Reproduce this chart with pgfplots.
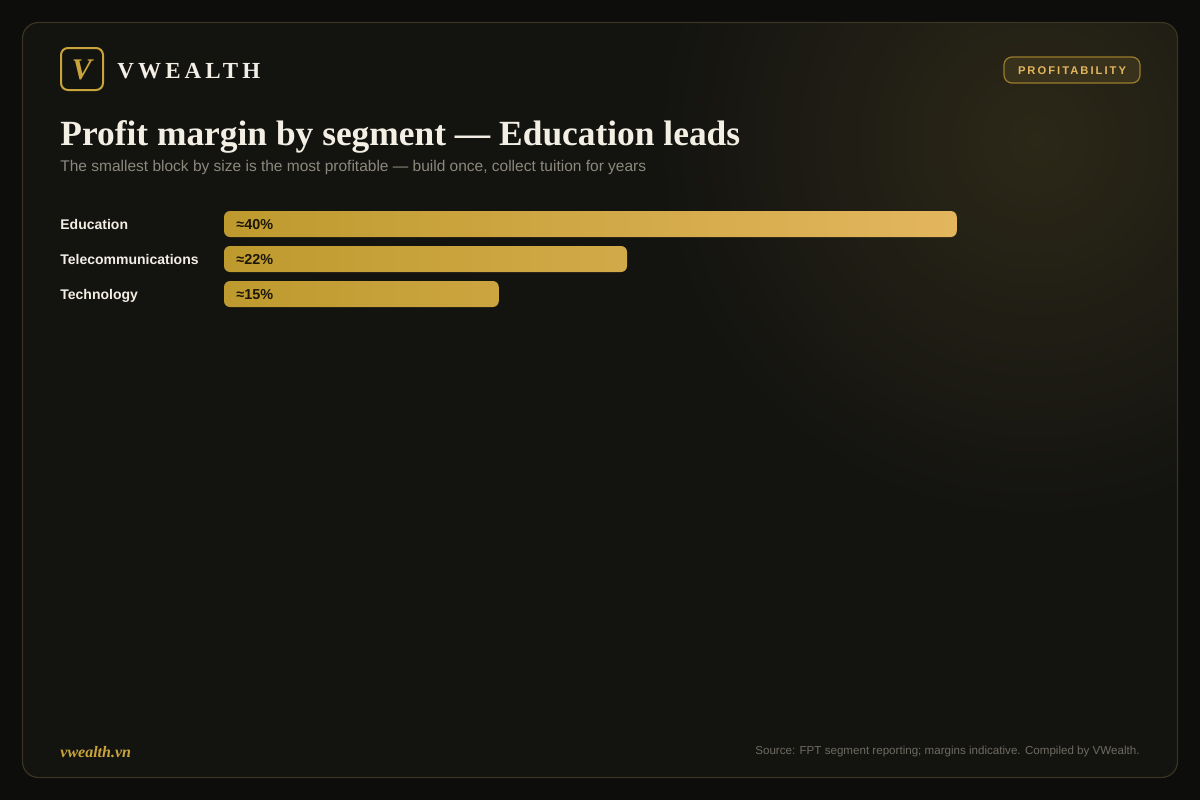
\documentclass[border=0pt]{standalone}
\usepackage{pgfplots}
\usepackage{pgfplotstable}
\pgfplotsset{compat=1.18}
\usepackage{fontspec}
\setmainfont{Liberation Sans}
\newfontfamily\serifb{Liberation Serif}
\newfontfamily\logofont[LetterSpace=18]{Liberation Serif}
\newfontfamily\badgefont[LetterSpace=18]{Liberation Sans}
\definecolor{pagebg}{HTML}{0D0D0B}
\definecolor{cardbg}{HTML}{131310}
\definecolor{glow}{HTML}{2C2818}
\definecolor{cardline}{HTML}{3A3422}
\definecolor{gold}{HTML}{C9A43A}
\definecolor{goldL}{HTML}{E3B65E}
\definecolor{goldD}{HTML}{BE9A2E}
\definecolor{titlec}{HTML}{F4EFE4}
\definecolor{subc}{HTML}{8C887C}
\definecolor{srcc}{HTML}{6E6B62}
\definecolor{labc}{HTML}{F2EEE4}
\definecolor{barlab}{HTML}{1C1706}
\definecolor{badgebg}{HTML}{38311B}
\definecolor{badgeline}{HTML}{9A7D2C}
\pgfplotstableread{
idx val zero lab
0 40 0 {≈40\%}
1 22 0 {≈22\%}
2 15 0 {≈15\%}
}\margins
\begin{document}
\begin{tikzpicture}[x=0.5pt,y=-0.5pt]
\fill[pagebg] (0,0) rectangle (1200,800);
\begin{scope}
\clip[rounded corners=8pt] (22.5,22.5) rectangle (1177.5,777.5);
\fill[cardbg] (0,0) rectangle (1200,800);
\shade[inner color=glow, outer color=cardbg] (1035,140) circle (380);
\end{scope}
\draw[cardline, line width=0.6pt, rounded corners=8pt] (22.5,22.5) rectangle (1177.5,777.5);
% logo
\draw[gold, line width=1pt, rounded corners=3.5pt] (61,48) rectangle (103,90);
\node[text=gold, font=\serifb\bfseries\itshape\fontsize{15}{15}\selectfont] at (82,70) {V};
\node[anchor=base west, inner sep=0, text=titlec, font=\logofont\bfseries\fontsize{11.5}{12}\selectfont] at (117,78) {VWEALTH};
% badge
\draw[badgeline, fill=badgebg, line width=0.6pt, rounded corners=4pt] (1004,57) rectangle (1140,83);
\node[text=goldL, font=\badgefont\bfseries\fontsize{5.6}{6}\selectfont] at (1072,70.5) {PROFITABILITY};
% title
\node[anchor=base west, inner sep=0, text=titlec, font=\serifb\bfseries\fontsize{17.7}{20}\selectfont] at (60,145) {Profit margin by segment — Education leads};
\node[anchor=base west, inner sep=0, text=subc, font=\fontsize{7.75}{8}\selectfont] at (60,171) {The smallest block by size is the most profitable — build once, collect tuition for years};
% footer
\node[anchor=base west, inner sep=0, text=gold, font=\serifb\bfseries\itshape\fontsize{8}{8}\selectfont] at (60,757) {vwealth.vn};
\node[anchor=base east, inner sep=0, text=srcc, font=\fontsize{5.8}{6}\selectfont] at (1140,754) {Source: FPT segment reporting; margins indicative. Compiled by VWealth.};
\coordinate (chartorigin) at (224,311.5);
% chart
\begin{axis}[
  at={(chartorigin)}, anchor=south west,
  width=458pt, height=52.5pt, scale only axis,
  xmin=0, xmax=50, ymin=-0.5, ymax=2.5, y dir=reverse,
  axis line style={draw=none}, tick style={draw=none},
  xtick=\empty, ytick={0,1,2},
  yticklabels={Education,Telecommunications,Technology},
  yticklabel style={anchor=base west, inner sep=0pt, xshift=-82pt, yshift=-2.6pt, text=labc, font=\bfseries\fontsize{7}{8}\selectfont},
  clip=false,
]
\addplot[xbar, bar width=13pt, bar shift=0pt, draw=none, rounded corners=3pt, left color=goldD, right color=goldL]
  table[x=val, y=idx] {\margins};
\addplot[draw=none, mark=none, nodes near coords, point meta=explicit symbolic,
  every node near coord/.style={anchor=base west, inner sep=0pt, xshift=6pt, yshift=-2.6pt, text=barlab, font=\bfseries\fontsize{7.2}{8}\selectfont}]
  table[x=zero, y=idx, meta=lab] {\margins};
\end{axis}
\pgfresetboundingbox
\useasboundingbox (0,0) rectangle (1200,800);
\end{tikzpicture}
\end{document}
